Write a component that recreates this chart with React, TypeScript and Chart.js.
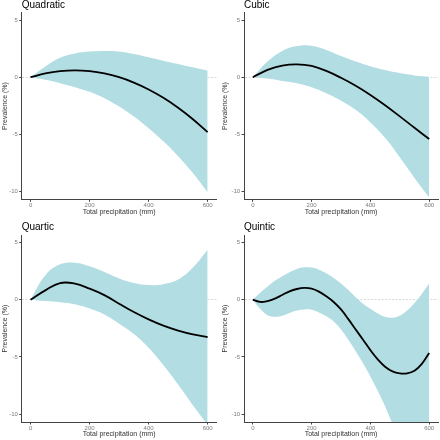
import React, { useEffect, useRef } from "react";
import { Chart, registerables } from "chart.js";

Chart.register(...registerables);

const FONT = "'Liberation Sans', Arial, Helvetica, sans-serif";

// ---------- data ----------
const precipitation = [0, 50, 100, 150, 200, 250, 300, 350, 400, 450, 500, 550, 600];
const precipitationFine = [
  0, 25, 50, 75, 100, 125, 150, 175, 200, 225, 250, 275, 300,
  325, 350, 375, 400, 425, 450, 475, 500, 525, 550, 575, 600,
];

const quadraticMean = [0, 0.33, 0.53, 0.6, 0.53, 0.33, 0, -0.47, -1.07, -1.8, -2.67, -3.67, -4.8];
const quadraticUpper = [0, 0.93, 1.7, 2.08, 2.24, 2.3, 2.24, 2.03, 1.74, 1.45, 1.16, 0.87, 0.58];
const quadraticLower = [0, -0.23, -0.52, -0.87, -1.28, -1.83, -2.56, -3.43, -4.45, -5.6, -6.9, -8.37, -10.06];

const cubicMean = [0, 0.64, 1.02, 1.13, 0.99, 0.55, -0.05, -0.75, -1.55, -2.45, -3.42, -4.42, -5.4];
const cubicUpper = [0, 1.37, 2.3, 2.73, 2.75, 2.38, 1.85, 1.38, 0.97, 0.63, 0.36, 0.16, 0.05];
const cubicLower = [0, -0.12, -0.32, -0.52, -0.87, -1.4, -2.05, -2.85, -3.95, -5.3, -7.0, -8.8, -10.5];

const quarticMean = [0, 0.81, 1.45, 1.4, 0.96, 0.4, -0.35, -1.08, -1.72, -2.27, -2.7, -3.03, -3.26];
const quarticUpper = [0, 2.12, 3.08, 3.23, 2.91, 2.41, 1.85, 1.45, 1.27, 1.35, 1.75, 2.8, 4.36];
const quarticLower = [0, -0.12, -0.23, -0.41, -0.78, -1.3, -2.1, -3.0, -4.2, -5.7, -7.4, -9.2, -10.9];

const quinticMean = [
  0, -0.2, -0.12, 0.09, 0.41, 0.73, 0.93, 1.02, 0.96, 0.7, 0.3, -0.2, -0.85,
  -1.7, -2.6, -3.5, -4.4, -5.2, -5.85, -6.25, -6.42, -6.42, -6.2, -5.6, -4.65,
];
const quinticUpper = [
  0, 0.6, 1.15, 1.65, 2.05, 2.4, 2.68, 2.82, 2.8, 2.62, 2.3, 1.9, 1.42,
  0.85, 0.22, -0.35, -0.8, -1.2, -1.5, -1.57, -1.4, -0.95, -0.3, 0.5, 1.4,
];
const quinticLower = [
  0, -0.8, -1.35, -1.5, -1.4, -1.16, -0.95, -0.85, -0.88, -1.12, -1.45, -1.9, -2.6,
  -3.5, -4.5, -5.55, -6.7, -7.95, -9.3, -10.8, -12.0, -12.8, -13.0, -12.5, -11.5,
];

const xTickValues = [0, 200, 400, 600];
const yTickValues = [-10, -5, 0, 5];

type Panel = {
  title: string;
  x: number[];
  mean: number[];
  upper: number[];
  lower: number[];
  left: number;
  right: number;
  top: number;
  bottom: number;
  titleY: number;
};

const panels: Panel[] = [
  { title: "Quadratic", x: precipitation, mean: quadraticMean, upper: quadraticUpper, lower: quadraticLower, left: 21.7, right: 216.5, top: 12.7, bottom: 199.3, titleY: 8.2 },
  { title: "Cubic", x: precipitation, mean: cubicMean, upper: cubicUpper, lower: cubicLower, left: 24, right: 218, top: 12.7, bottom: 199.3, titleY: 8.2 },
  { title: "Quartic", x: precipitation, mean: quarticMean, upper: quarticUpper, lower: quarticLower, left: 21.7, right: 216.5, top: 15, bottom: 202, titleY: 9.8 },
  { title: "Quintic", x: precipitationFine, mean: quinticMean, upper: quinticUpper, lower: quinticLower, left: 24, right: 218, top: 15, bottom: 202, titleY: 9.8 },
];

const BAND = "#b2dde3";

const titlePlugin = {
  id: "panelTitle",
  afterDraw(chart: any, _args: any, opts: any) {
    const ctx = chart.ctx;
    ctx.save();
    ctx.font = `10px ${FONT}`;
    ctx.fillStyle = "#000";
    ctx.textAlign = "left";
    ctx.textBaseline = "alphabetic";
    ctx.fillText(opts.text, chart.chartArea.left, opts.y);
    ctx.restore();
  },
};

function PanelChart({ panel }: { panel: Panel }) {
  const ref = useRef<HTMLCanvasElement | null>(null);
  useEffect(() => {
    if (!ref.current) return;
    const pts = (ys: number[]) => panel.x.map((x, i) => ({ x, y: ys[i] }));
    const chart = new Chart(ref.current, {
      type: "line",
      data: {
        datasets: [
          {
            data: pts(panel.mean),
            borderColor: "#000",
            borderWidth: 1.8,
            pointRadius: 0,
            fill: false,
            tension: 0.4,
          },
          {
            data: pts(panel.upper),
            borderWidth: 0,
            borderColor: "rgba(0,0,0,0)",
            backgroundColor: BAND,
            pointRadius: 0,
            fill: "+1",
            tension: 0.4,
          },
          {
            data: pts(panel.lower),
            borderWidth: 0,
            borderColor: "rgba(0,0,0,0)",
            pointRadius: 0,
            fill: false,
            tension: 0.4,
          },
        ],
      },
      plugins: [titlePlugin],
      options: {
        responsive: false,
        animation: false,
        devicePixelRatio: 1,
        layout: { padding: { left: 0, right: 220 - panel.right, top: panel.top, bottom: 0 } },
        plugins: {
          legend: { display: false },
          tooltip: { enabled: false },
          title: { display: false },
          panelTitle: { text: panel.title, y: panel.titleY },
        } as any,
        scales: {
          x: {
            type: "linear",
            min: -30,
            max: 630,
            afterBuildTicks: (s: any) => {
              s.ticks = xTickValues.map((v) => ({ value: v }));
            },
            afterFit: (s: any) => {
              s.height = 220 - panel.bottom;
            },
            grid: { color: "rgba(0,0,0,0)", tickColor: "#444", tickLength: 2.5, drawTicks: true },
            border: { display: true, color: "#444", width: 1 },
            ticks: { font: { size: 6, family: FONT }, color: "#7a7a7a", padding: 0, maxRotation: 0, autoSkip: false },
            title: {
              display: true,
              text: "Total precipitation (mm)",
              font: { size: 7, family: FONT },
              color: "#333",
              padding: { top: 0, bottom: 220 - panel.bottom - 12.4 - 4.2 },
            },
          },
          y: {
            type: "linear",
            min: -10.67,
            max: 5.64,
            afterBuildTicks: (s: any) => {
              s.ticks = yTickValues.map((v) => ({ value: v }));
            },
            afterFit: (s: any) => {
              s.width = panel.left;
            },
            grid: {
              color: (c: any) => (c.tick && c.tick.value === 0 ? "rgba(200,200,200,0.7)" : "rgba(0,0,0,0)"),
              tickColor: "#444",
              tickLength: 2.5,
              drawTicks: true,
            },
            border: { display: true, color: "#444", width: 1, dash: [2, 1.5] },
            ticks: { font: { size: 6, family: FONT }, color: "#7a7a7a", padding: 1.4, autoSkip: false },
            title: {
              display: true,
              text: "Prevalence (%)",
              font: { size: 7, family: FONT },
              color: "#333",
              padding: { top: 1.3, bottom: 0 },
            },
          },
        },
      } as any,
    });
    return () => chart.destroy();
  }, [panel]);
  return <canvas ref={ref} width={220} height={220} style={{ display: "block", width: 220, height: 220 }} />;
}

export default function App() {
  return (
    <div
      style={{
        position: "absolute",
        left: 0,
        top: 0,
        width: 440,
        height: 440,
        background: "#fff",
        display: "grid",
        gridTemplateColumns: "220px 220px",
        gridTemplateRows: "220px 220px",
      }}
    >
      {panels.map((p) => (
        <PanelChart key={p.title} panel={p} />
      ))}
    </div>
  );
}
